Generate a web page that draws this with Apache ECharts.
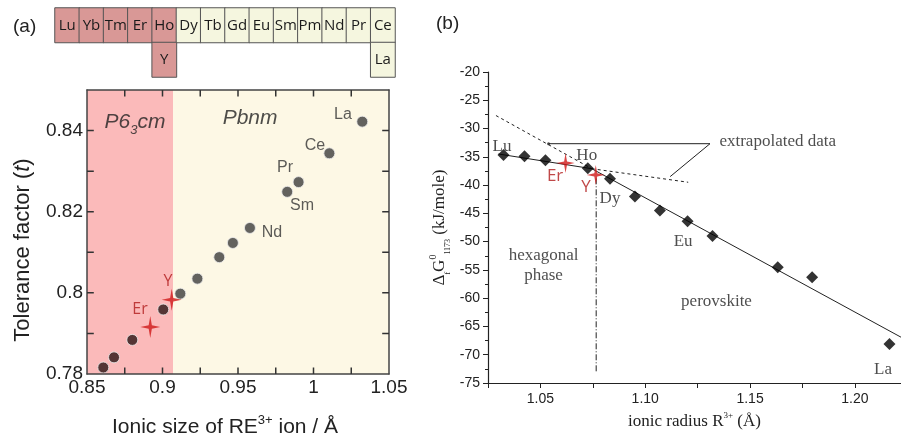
<!DOCTYPE html>
<html><head><meta charset="utf-8">
<script src="https://cdn.jsdelivr.net/npm/echarts@6/dist/echarts.min.js"></script>
<style>html,body{margin:0;padding:0;background:#fff}#c{width:901px;height:443px}</style>
</head><body><div id="c"></div>
<script>
// ---------- data ----------
const tableTop = ['Lu','Yb','Tm','Er','Ho','Dy','Tb','Gd','Eu','Sm','Pm','Nd','Pr','Ce'];
const tableTopHex = [true,true,true,true,true,false,false,false,false,false,false,false,false,false];
const tableBottomCol = [4, 13];
const tableBottom = ['Y','La'];
const tableBottomHex = [true,false];

const aIonic = [0.8608,0.8679,0.8800,0.9005,0.9118,0.9231,0.9376,0.9466,0.9579,0.9826,0.9901,1.0105,1.0323];
const aTol   = [0.7816,0.7841,0.7884,0.7959,0.7998,0.8035,0.8088,0.8123,0.8160,0.8249,0.8273,0.8344,0.8422];
const aStarX = [0.8919,0.9061];
const aStarY = [0.7916,0.7983];
const aBoundary = 0.907;
const aLabels = ['La','Ce','Pr','Sm','Nd'];
const aLabelX = [1.0195,1.0010,0.9811,0.9924,0.9725];
const aLabelY = [0.8439,0.8362,0.8309,0.8214,0.8149];
const aStarLabels = ['Er','Y'];
const aStarLabelX = [0.8851,0.9036];
const aStarLabelY = [0.7960,0.8028];
const aXTicks = [0.875,0.9,0.925,0.95,0.975,1.0,1.025];
const aYTicks = [0.79,0.80,0.81,0.82,0.83,0.84];

const bRadius = [1.0324,1.0424,1.0524,1.0726,1.0832,1.0951,1.1070,1.1202,1.1321,1.1632,1.1796,1.2165];
const bGibbs  = [-34.7,-34.9,-35.6,-37.0,-38.9,-42.0,-44.5,-46.4,-49.0,-54.55,-56.3,-68.1];
const bStarX = [1.0620,1.0764];
const bStarY = [-36.1,-38.2];
const bFit1X = [1.0300,1.0745], bFit1Y = [-34.5,-37.1];
const bFit2X = [1.0745,1.2220], bFit2Y = [-37.1,-66.9];
const bExt1X = [1.0288,1.0745], bExt1Y = [-27.7,-37.1];
const bExt2X = [1.0745,1.1205], bExt2Y = [-37.1,-39.5];
const bCalloutX = [1.0539,1.1309,1.1119], bCalloutY = [-32.68,-32.68,-38.5];
const bBoundaryX = 1.0766, bBoundaryY = [-38.8,-73.0];
const bLabels = ['Lu','Ho','Dy','Eu','La','hexagonal','phase','perovskite','extrapolated data'];
const bLabelX = [1.0317,1.0721,1.0832,1.1181,1.2134,1.0515,1.0515,1.1340,1.1632];
const bLabelY = [-33.2,-34.8,-42.3,-49.95,-72.6,-52.5,-56.0,-60.6,-32.3];
const bStarLabels = ['Er','Y'];
const bStarLabelX = [1.0570,1.0717];
const bStarLabelY = [-38.5,-40.3];

// ---------- helpers ----------
const zip = (xs, ys) => xs.map((x, i) => [x, ys[i]]);
const SANS = 'Liberation Sans, Arial, sans-serif';
const SERIF = 'Liberation Serif, Times New Roman, serif';
const PINK_CELL = '#d99896', CREAM_CELL = '#f5f6df';
const RED = '#d01818', RED_TXT = '#b01a1a';
const STAR = 'path://M0,-10 L1.6,-1.6 L10,0 L1.6,1.6 L0,10 L-1.6,1.6 L-10,0 L-1.6,-1.6 Z';
const A_XMIN = 0.85, A_XMAX = 1.05, A_YMIN = 0.78, A_YMAX = 0.85;
const TICK_DY = 0.0016, TICK_DX = 0.0045; // ~6-7 px inward ticks in axis units

const heatData = tableTop.map((n, i) => ({
  value: [i, 0, 1], name: n,
  itemStyle: { color: tableTopHex[i] ? PINK_CELL : CREAM_CELL }
})).concat(tableBottom.map((n, i) => ({
  value: [tableBottomCol[i], 1, 1], name: n,
  itemStyle: { color: tableBottomHex[i] ? PINK_CELL : CREAM_CELL }
})));

// inward frame ticks of panel (a) as broken line segments
const tickSegs = [];
aXTicks.forEach(v => {
  tickSegs.push([v, A_YMIN], [v, A_YMIN + TICK_DY], '-');
  tickSegs.push([v, A_YMAX], [v, A_YMAX - TICK_DY], '-');
});
aYTicks.forEach(v => {
  tickSegs.push([A_XMIN, v], [A_XMIN + TICK_DX, v], '-');
  tickSegs.push([A_XMAX, v], [A_XMAX - TICK_DX, v], '-');
});

function textSeries(xi, yi, names, xs, ys, style) {
  return {
    type: 'scatter', xAxisIndex: xi, yAxisIndex: yi, z: 6, silent: true,
    symbolSize: 1, itemStyle: { color: 'transparent' },
    data: names.map((n, i) => ({ value: [xs[i], ys[i]], name: n })),
    label: Object.assign({ show: true, position: 'inside', formatter: '{b}' }, style)
  };
}
function lineSeries(xs, ys, ls) {
  return {
    type: 'line', xAxisIndex: 3, yAxisIndex: 3, z: 3, silent: true, symbol: 'none',
    data: zip(xs, ys), lineStyle: Object.assign({ color: '#222', width: 1 }, ls)
  };
}

function aAxis(extra) {
  return Object.assign({
    min: A_XMIN, max: A_XMAX, interval: 0.05, z: 10,
    axisLine: { show: true, onZero: false, lineStyle: { color: '#444', width: 1.5 } },
    axisTick: { show: false }, minorTick: { show: false }, splitLine: { show: false }
  }, extra);
}
function aYAxis(extra) {
  return Object.assign({
    min: A_YMIN, max: A_YMAX, interval: 0.02, z: 10,
    axisLine: { show: true, onZero: false, lineStyle: { color: '#444', width: 1.5 } },
    axisTick: { show: false }, minorTick: { show: false }, splitLine: { show: false }
  }, extra);
}

const option = {
  animation: false,
  backgroundColor: '#ffffff',
  title: [
    { text: '(a)', left: 8, top: 12, textStyle: { fontFamily: SANS, fontSize: 19, fontWeight: 'normal', color: '#222' } },
    { text: '(b)', left: 431, top: 9, textStyle: { fontFamily: SANS, fontSize: 19, fontWeight: 'normal', color: '#222' } }
  ],
  grid: [
    { left: 55, top: 8, width: 340, height: 69 },
    { left: 87, top: 90, width: 302, height: 289 },
    { left: 488, top: 72, width: 413, height: 311 }
  ],
  xAxis: [
    { type: 'category', gridIndex: 0, data: tableTop, show: false },
    aAxis({ type: 'value', gridIndex: 1, position: 'bottom',
      axisLabel: { fontFamily: SANS, fontSize: 19, color: '#222', margin: 4 },
      name: '{n|Ionic size of RE}{s|3+}{n| ion / Å}', nameLocation: 'middle', nameGap: 40,
      nameTextStyle: { padding: [0, 26, 0, 0], rich: {
        n: { fontFamily: SANS, fontSize: 21, color: '#222', lineHeight: 27 },
        s: { fontFamily: SANS, fontSize: 13, color: '#222', lineHeight: 13, verticalAlign: 'top' } } }
    }),
    aAxis({ type: 'value', gridIndex: 1, position: 'top', axisLabel: { show: false } }),
    { type: 'value', gridIndex: 2, min: 1.025, max: 1.222, interval: 0.025, z: 10,
      axisLine: { show: true, onZero: false, lineStyle: { color: '#222', width: 1.2 } },
      axisTick: { show: true, length: 5, lineStyle: { color: '#222' } },
      minorTick: { show: false },
      splitLine: { show: false },
      axisLabel: { fontFamily: SANS, fontSize: 14, color: '#222', margin: 9, showMaxLabel: false,
        formatter: v => (Math.abs(Math.round(v * 20) - v * 20) < 1e-6 ? v.toFixed(2) : '') },
      name: '{n|ionic radius R}{s|3+}{n| (Å)}', nameLocation: 'middle', nameGap: 28,
      nameTextStyle: { rich: {
        n: { fontFamily: SERIF, fontSize: 17, color: '#222', lineHeight: 22 },
        s: { fontFamily: SERIF, fontSize: 9, color: '#222', lineHeight: 9, verticalAlign: 'top' } } }
    }
  ],
  yAxis: [
    { type: 'category', gridIndex: 0, data: ['r1','r2'], inverse: true, show: false },
    aYAxis({ type: 'value', gridIndex: 1, position: 'left',
      axisLabel: { fontFamily: SANS, fontSize: 19, color: '#222', margin: 4, showMaxLabel: false },
      name: '{n|Tolerance factor (}{i|t}{n|)}', nameLocation: 'middle', nameGap: 53, nameRotate: 90,
      nameTextStyle: { padding: [0, 36, 0, 0], rich: {
        n: { fontFamily: SANS, fontSize: 22, color: '#222' },
        i: { fontFamily: SANS, fontSize: 22, color: '#222', fontStyle: 'italic' } } }
    }),
    aYAxis({ type: 'value', gridIndex: 1, position: 'right', axisLabel: { show: false } }),
    { type: 'value', gridIndex: 2, min: -75, max: -20, interval: 5, z: 10,
      axisLine: { show: true, onZero: false, lineStyle: { color: '#222', width: 1.2 } },
      axisTick: { show: true, length: 5, lineStyle: { color: '#222' } },
      minorTick: { show: true, splitNumber: 2, length: 3, lineStyle: { color: '#222' } },
      splitLine: { show: false },
      axisLabel: { fontFamily: SANS, fontSize: 14, color: '#222', margin: 8 },
      name: '{n|Δ}{b|f}{n|G}{p|0}{b|1173}{n| (kJ/mole)}', nameLocation: 'middle', nameGap: 36, nameRotate: 90,
      nameTextStyle: { rich: {
        n: { fontFamily: SERIF, fontSize: 17, color: '#222', lineHeight: 24 },
        p: { fontFamily: SERIF, fontSize: 10, color: '#222', lineHeight: 10, verticalAlign: 'top' },
        b: { fontFamily: SERIF, fontSize: 8, color: '#222', lineHeight: 8, verticalAlign: 'bottom' } } }
    }
  ],
  series: [
    { type: 'heatmap', xAxisIndex: 0, yAxisIndex: 0, data: heatData, silent: true,
      itemStyle: { borderColor: '#555', borderWidth: 1 },
      label: { show: true, formatter: '{b}', fontFamily: 'Open Sans, Liberation Sans, sans-serif', fontSize: 15, color: '#1a1a1a' } },
    { type: 'scatter', xAxisIndex: 1, yAxisIndex: 1, z: 1, data: [], silent: true,
      markArea: { silent: true, data: [
        [{ xAxis: A_XMIN, itemStyle: { color: '#fbbaba' } }, { xAxis: aBoundary }],
        [{ xAxis: aBoundary, itemStyle: { color: '#fdf8e5' } }, { xAxis: A_XMAX }]
      ] } },
    { type: 'line', xAxisIndex: 1, yAxisIndex: 1, z: 11, silent: true, symbol: 'none',
      connectNulls: false, clip: false, data: tickSegs,
      lineStyle: { color: '#333', width: 1.5 } },
    { type: 'scatter', xAxisIndex: 1, yAxisIndex: 1, z: 4, symbolSize: 11, silent: true,
      data: zip(aIonic, aTol),
      itemStyle: { color: p => (p.value[0] < aBoundary ? '#2a1414' : '#3c3c3c'), borderColor: '#eee', borderWidth: 1 } },
    { type: 'scatter', xAxisIndex: 1, yAxisIndex: 1, z: 5, symbol: STAR, symbolSize: [20, 22], silent: true,
      data: zip(aStarX, aStarY), itemStyle: { color: RED } },
    textSeries(1, 1, aLabels, aLabelX, aLabelY, { fontFamily: SANS, fontSize: 16, color: '#333' }),
    textSeries(1, 1, aStarLabels, aStarLabelX, aStarLabelY, { fontFamily: 'Open Sans, sans-serif', fontSize: 16, color: RED_TXT }),
    textSeries(1, 1, ['P6_3cm', 'Pbnm'], [0.8818, 0.958], [0.842, 0.843], {
      formatter: p => (p.name === 'Pbnm' ? '{i|Pbnm}' : '{i|P6}{s|3}{i|cm}'),
      rich: {
        i: { fontFamily: SANS, fontSize: 21, fontStyle: 'italic', color: '#222', lineHeight: 28 },
        s: { fontFamily: SANS, fontSize: 13, fontStyle: 'italic', color: '#222', lineHeight: 14, verticalAlign: 'bottom' }
      } }),
    // panel b
    lineSeries(bFit1X, bFit1Y, {}),
    lineSeries(bFit2X, bFit2Y, {}),
    lineSeries(bExt1X, bExt1Y, { type: [3, 3], width: 1 }),
    lineSeries(bExt2X, bExt2Y, { type: [3, 3], width: 1 }),
    lineSeries(bCalloutX, bCalloutY, { width: 1 }),
    lineSeries([bBoundaryX, bBoundaryX], bBoundaryY, { type: [6, 2, 1, 2], width: 1 }),
    { type: 'scatter', xAxisIndex: 3, yAxisIndex: 3, z: 4, symbol: 'diamond', symbolSize: 12, silent: true,
      data: zip(bRadius, bGibbs), itemStyle: { color: '#000' } },
    { type: 'scatter', xAxisIndex: 3, yAxisIndex: 3, z: 4, symbolSize: 3, silent: true,
      data: [[bCalloutX[0], bCalloutY[0]]], itemStyle: { color: '#222' } },
    { type: 'scatter', xAxisIndex: 3, yAxisIndex: 3, z: 5, symbol: STAR, symbolSize: [18, 20], silent: true,
      data: zip(bStarX, bStarY), itemStyle: { color: RED } },
    textSeries(3, 3, bLabels, bLabelX, bLabelY, { fontFamily: SERIF, fontSize: 17, color: '#222' }),
    textSeries(3, 3, bStarLabels, bStarLabelX, bStarLabelY, { fontFamily: 'Open Sans, sans-serif', fontSize: 17, color: RED_TXT })
  ]
};

const chart = echarts.init(document.getElementById('c'), null, { renderer: 'canvas' });
chart.setOption(option);
</script></body></html>
